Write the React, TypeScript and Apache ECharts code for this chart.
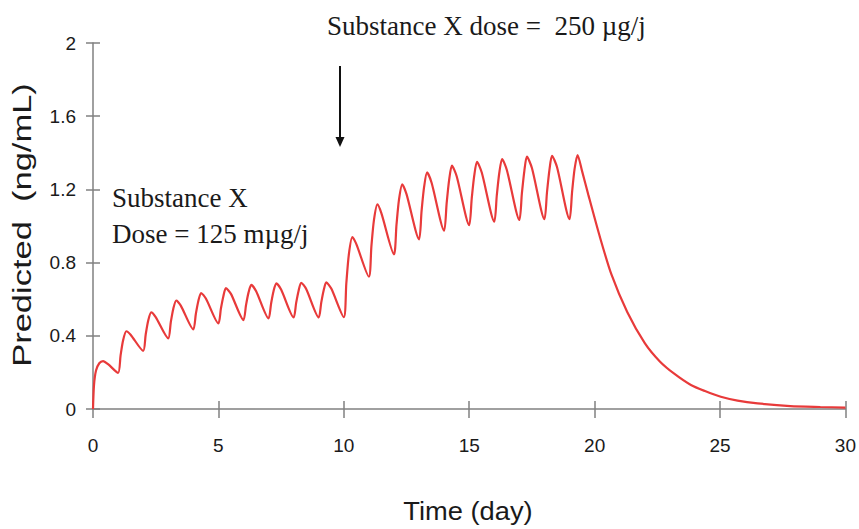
import React, { useEffect, useRef } from 'react';
import * as echarts from 'echarts';

// Time (day) of each read point
const days = [
  0, 0.04, 0.12, 0.25, 0.4, 0.6,
  1, 1.1, 1.2, 1.33, 1.5,
  2, 2.1, 2.2, 2.32, 2.5,
  3, 3.1, 3.2, 3.32, 3.5,
  4, 4.1, 4.2, 4.31, 4.5,
  5, 5.1, 5.2, 5.3, 5.5,
  6, 6.1, 6.2, 6.31, 6.5,
  7, 7.1, 7.2, 7.31, 7.5,
  8, 8.1, 8.2, 8.3, 8.5,
  9, 9.1, 9.2, 9.3, 9.5,
  10, 10.1, 10.2, 10.34, 10.5,
  11, 11.1, 11.2, 11.34, 11.5,
  12, 12.1, 12.2, 12.33, 12.5,
  13, 13.1, 13.2, 13.32, 13.5,
  14, 14.1, 14.2, 14.31, 14.5,
  15, 15.1, 15.2, 15.31, 15.5,
  16, 16.1, 16.2, 16.31, 16.5,
  17, 17.1, 17.2, 17.3, 17.5,
  18, 18.1, 18.2, 18.3, 18.5,
  19, 19.1, 19.2, 19.32, 19.5, 19.75, 20.2, 20.67, 21.3, 22.0, 22.6, 23.2, 23.84, 24.4, 25.03, 25.7, 26.5, 27.8, 29.0, 30,
];

// Predicted concentration (ng/mL)
const conc = [
  0, 0.13, 0.21, 0.25, 0.262, 0.245,
  0.197, 0.293, 0.375, 0.425, 0.406,
  0.318, 0.406, 0.482, 0.528, 0.502,
  0.386, 0.473, 0.547, 0.593, 0.565,
  0.435, 0.519, 0.59, 0.634, 0.604,
  0.468, 0.549, 0.618, 0.66, 0.629,
  0.486, 0.567, 0.636, 0.678, 0.645,
  0.495, 0.576, 0.645, 0.687, 0.653,
  0.5, 0.58, 0.648, 0.69, 0.656,
  0.5, 0.581, 0.65, 0.692, 0.658,
  0.502, 0.686, 0.844, 0.94, 0.901,
  0.723, 0.889, 1.031, 1.118, 1.069,
  0.845, 1.006, 1.144, 1.228, 1.174,
  0.927, 1.081, 1.212, 1.293, 1.236,
  0.974, 1.124, 1.252, 1.33, 1.272,
  1.005, 1.15, 1.275, 1.351, 1.292,
  1.024, 1.168, 1.291, 1.366, 1.306,
  1.033, 1.178, 1.303, 1.379, 1.317,
  1.037, 1.183, 1.308, 1.384, 1.322,
  1.037, 1.184, 1.311, 1.388, 1.3, 1.17, 0.945, 0.735, 0.53, 0.36, 0.26, 0.19, 0.131, 0.098, 0.067, 0.046, 0.031, 0.016, 0.011, 0.008,
];

const xMin = 0;
const xMax = 30;
const xStep = 5;
const yMin = 0;
const yMax = 2;
const yStep = 0.4;

const xTitle = 'Time (day)';
const yTitle = 'Predicted  (ng/mL)';
const noteHigh = 'Substance X dose =  250 µg/j';
const noteLow1 = 'Substance X';
const noteLow2 = 'Dose = 125 mµg/j';

export default function App() {
  const ref = useRef<HTMLDivElement>(null);

  useEffect(() => {
    document.body.style.margin = '0';
    const chart = echarts.init(ref.current!, null, { renderer: 'svg' });
    const axisColor = '#808080';
    const tickFont = "'Liberation Sans Narrow', 'Liberation Sans', Arial, sans-serif";
    const serif = "'Liberation Serif', 'Times New Roman', serif";
    const data = days.map((d, i) => [d, conc[i]]);

    const baseX = {
      type: 'value',
      min: xMin,
      max: xMax,
      interval: xStep,
      position: 'bottom',
      splitLine: { show: false },
    };
    const baseY = {
      type: 'value',
      min: yMin,
      max: yMax,
      interval: yStep,
      position: 'left',
      splitLine: { show: false },
    };

    chart.setOption({
      animation: false,
      backgroundColor: '#ffffff',
      grid: { left: 93, right: 11, top: 43, bottom: 120, containLabel: false },
      xAxis: [
        {
          ...baseX,
          axisLine: { show: true, onZero: false, lineStyle: { color: axisColor, width: 1.5 } },
          axisTick: { show: true, length: 9, lineStyle: { color: axisColor, width: 1.5 } },
          axisLabel: { margin: 27, fontSize: 19, color: '#1a1a1a', fontFamily: tickFont },
        },
        {
          ...baseX,
          axisLine: { show: false, onZero: false },
          axisTick: { show: true, inside: true, length: 8, lineStyle: { color: axisColor, width: 1.5 } },
          axisLabel: { show: false },
        },
      ],
      yAxis: [
        {
          ...baseY,
          axisLine: { show: true, onZero: false, lineStyle: { color: axisColor, width: 1.5 } },
          axisTick: { show: true, length: 7, lineStyle: { color: axisColor, width: 1.5 } },
          axisLabel: { margin: 17, fontSize: 19, color: '#1a1a1a', fontFamily: tickFont },
        },
        {
          ...baseY,
          axisLine: { show: false, onZero: false },
          axisTick: { show: true, inside: true, length: 7, lineStyle: { color: axisColor, width: 1.5 } },
          axisLabel: { show: false },
        },
      ],
      series: [
        {
          type: 'line',
          xAxisIndex: 0,
          yAxisIndex: 0,
          data,
          symbol: 'none',
          showSymbol: false,
          smooth: 0.25,
          lineStyle: { color: '#e83a3a', width: 2.2 },
        },
      ],
      graphic: [
        {
          type: 'text',
          x: 468,
          y: 511,
          scaleX: 1.05,
          style: { text: xTitle, font: "26px 'Liberation Sans Narrow', 'Liberation Sans', Arial, sans-serif", fill: '#1a1a1a', align: 'center', verticalAlign: 'middle' },
        },
        {
          type: 'text',
          x: 22,
          y: 225,
          rotation: Math.PI / 2,
          scaleX: 1.38,
          style: { text: yTitle, font: "25px 'Liberation Sans', Arial, sans-serif", fill: '#1a1a1a', align: 'center', verticalAlign: 'middle' },
        },
        {
          type: 'text',
          x: 327,
          y: 26,
          style: { text: noteHigh, font: `27px ${serif}`, fill: '#1a1a1a', align: 'left', verticalAlign: 'middle' },
        },
        {
          type: 'text',
          x: 112,
          y: 198,
          style: { text: noteLow1, font: `27px ${serif}`, fill: '#1a1a1a', align: 'left', verticalAlign: 'middle' },
        },
        {
          type: 'text',
          x: 112,
          y: 234,
          style: { text: noteLow2, font: `27px ${serif}`, fill: '#1a1a1a', align: 'left', verticalAlign: 'middle' },
        },
        {
          type: 'line',
          shape: { x1: 340, y1: 66, x2: 340, y2: 140 },
          style: { stroke: '#111111', lineWidth: 2 },
        },
        {
          type: 'polygon',
          shape: { points: [[335.5, 137], [344.5, 137], [340, 147]] },
          style: { fill: '#111111' },
        },
      ],
    });

    return () => chart.dispose();
  }, []);

  return <div ref={ref} style={{ width: 859, height: 529 }} />;
}
